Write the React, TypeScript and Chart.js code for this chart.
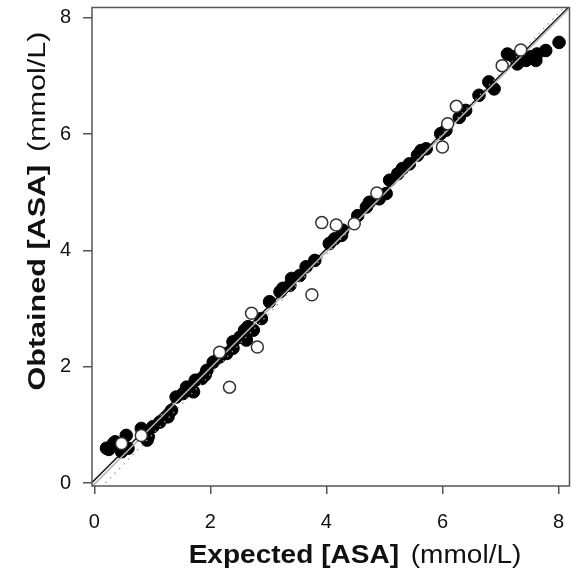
import React, { useEffect, useRef } from "react";
import { Chart, registerables } from "chart.js";

Chart.register(...registerables);

// Filled points (expected, obtained)
const filledX = [
  0.21, 0.25, 0.33, 0.36, 0.47, 0.55, 0.58, 0.81, 0.91, 0.93, 1.01, 1.13, 1.27, 1.33,
  1.41, 1.53, 1.62, 1.59, 1.71, 1.74, 1.85, 1.91, 1.94, 2.05, 2.16, 2.28, 2.39, 2.39,
  2.51, 2.59, 2.65, 2.62, 2.74, 2.88, 3.02, 3.2, 3.25, 3.37, 3.4, 3.54, 3.65, 3.8,
  4.05, 4.14, 4.26, 4.28, 4.54, 4.69, 4.74, 4.91, 5.03, 5.09, 5.23, 5.31, 5.43, 5.57,
  5.63, 5.72, 5.97, 6.06, 6.29, 6.4, 6.63, 6.8, 6.89, 7.12, 7.23, 7.29, 7.44, 7.52,
  7.61, 7.63, 7.78, 8.01,
];
const filledY = [
  0.6, 0.58, 0.68, 0.71, 0.54, 0.82, 0.6, 0.94, 0.74, 0.8, 0.97, 1.05, 1.14, 1.25,
  1.48, 1.54, 1.6, 1.65, 1.57, 1.77, 1.8, 1.86, 1.94, 2.08, 2.17, 2.23, 2.32, 2.43,
  2.51, 2.63, 2.69, 2.46, 2.63, 2.83, 3.12, 3.29, 3.35, 3.4, 3.52, 3.57, 3.72, 3.83,
  4.12, 4.2, 4.26, 4.35, 4.6, 4.75, 4.83, 4.89, 4.98, 5.21, 5.32, 5.41, 5.49, 5.64,
  5.72, 5.75, 6.01, 6.07, 6.29, 6.41, 6.67, 6.9, 6.78, 7.38, 7.33, 7.21, 7.27, 7.33,
  7.27, 7.38, 7.44, 7.58,
];

// Open points (expected, obtained)
const openX = [0.47, 0.81, 2.16, 2.33, 2.81, 2.71, 3.75, 3.92, 4.17, 4.48, 4.87, 6.24, 6.09, 6.0, 7.03, 7.35];
const openY = [0.68, 0.82, 2.25, 1.65, 2.34, 2.92, 3.24, 4.48, 4.44, 4.46, 4.99, 6.48, 6.18, 5.78, 7.18, 7.45];

const xTicks = [0, 2, 4, 6, 8];
const yTicks = [0, 2, 4, 6, 8];

const xRange = [-0.04, 8.19];
const yRange = [-0.05, 8.18];

// Reference lines: slope / intercept
const fitLine = { slope: 0.995, intercept: 0.05 };
const identityLine = { slope: 1.0, intercept: -0.02 };
const dottedLine = { slope: 1.035, intercept: -0.2 };

const xTitleBold = "Expected [ASA]";
const yTitleBold = "Obtained [ASA]";
const unitText = "(mmol/L)";

const lineData = (l: { slope: number; intercept: number }) =>
  xRange.map((x) => ({ x, y: l.slope * x + l.intercept }));

const FONT = "'Liberation Sans', Arial, sans-serif";

function drawMixed(ctx: CanvasRenderingContext2D, size: number, bold: string, norm: string) {
  const boldFont = `bold ${size}px ${FONT}`;
  const normFont = `${size}px ${FONT}`;
  ctx.font = boldFont;
  const w1 = ctx.measureText(bold).width;
  const sp = ctx.measureText(" ").width * 1.5;
  ctx.font = normFont;
  const w2 = ctx.measureText(norm).width;
  const sx = -(w1 + sp + w2) / 2;
  ctx.font = boldFont;
  ctx.fillText(bold, sx, 0);
  ctx.font = normFont;
  ctx.fillText(norm, sx + w1 + sp, 0);
}

const framePlugin = {
  id: "frameAndTitles",
  afterDraw(chart: any) {
    const { ctx, chartArea } = chart;
    ctx.save();
    ctx.strokeStyle = "#555";
    ctx.lineWidth = 1.5;
    ctx.strokeRect(chartArea.left, chartArea.top, chartArea.right - chartArea.left, chartArea.bottom - chartArea.top);

    ctx.fillStyle = "#111";
    ctx.textBaseline = "alphabetic";
    ctx.textAlign = "left";

    // X title
    ctx.save();
    ctx.translate(355, 563);
    ctx.scale(1.1, 1);
    drawMixed(ctx, 25.5, xTitleBold, unitText);
    ctx.restore();

    // Y title
    ctx.save();
    ctx.translate(45, 211);
    ctx.rotate(-Math.PI / 2);
    ctx.scale(1.3, 1);
    drawMixed(ctx, 23.5, yTitleBold, unitText);
    ctx.restore();

    ctx.restore();
  },
};

const zeroPad = (s: any) => {
  s.paddingTop = 0;
  s.paddingBottom = 0;
  s.paddingLeft = 0;
  s.paddingRight = 0;
};

export default function App() {
  const ref = useRef<HTMLCanvasElement | null>(null);

  useEffect(() => {
    if (!ref.current) return;
    const chart = new Chart(ref.current, {
      type: "scatter",
      data: {
        datasets: [
          {
            label: "fit",
            data: lineData(fitLine),
            showLine: true,
            borderColor: "#111",
            borderWidth: 1.5,
            pointRadius: 0,
            order: 6,
          },
          {
            label: "filled",
            data: filledX.map((x, i) => ({ x, y: filledY[i] })),
            backgroundColor: "#000",
            borderColor: "#000",
            borderWidth: 1,
            pointRadius: 6.3,
            order: 5,
          },
          {
            label: "identity",
            data: lineData(identityLine),
            showLine: true,
            borderColor: "#b0b0b0",
            borderWidth: 1.5,
            pointRadius: 0,
            order: 4,
          },
          {
            label: "dotted",
            data: lineData(dottedLine),
            showLine: true,
            borderColor: "#999",
            borderWidth: 1.2,
            borderDash: [1.5, 5],
            pointRadius: 0,
            order: 3,
          },
          {
            label: "open",
            data: openX.map((x, i) => ({ x, y: openY[i] })),
            backgroundColor: "#fff",
            borderColor: "#333",
            borderWidth: 1.5,
            pointRadius: 6,
            order: 1,
          },
        ],
      },
      options: {
        responsive: false,
        animation: false,
        devicePixelRatio: 1,
        layout: { padding: { top: 7, right: 6, left: 0, bottom: 0 } },
        plugins: { legend: { display: false }, tooltip: { enabled: false } },
        scales: {
          x: {
            type: "linear",
            min: xRange[0],
            max: xRange[1],
            afterBuildTicks: (s: any) => {
              s.ticks = xTicks.map((v) => ({ value: v }));
            },
            afterFit: (s: any) => {
              s.height = 94;
              zeroPad(s);
            },
            border: { display: false },
            grid: { display: true, drawOnChartArea: false, drawTicks: true, tickLength: 8, color: "#555", lineWidth: 1.5 },
            ticks: { font: { family: FONT, size: 20 }, color: "#111", padding: 16, maxRotation: 0 },
          },
          y: {
            type: "linear",
            min: yRange[0],
            max: yRange[1],
            afterBuildTicks: (s: any) => {
              s.ticks = yTicks.map((v) => ({ value: v }));
            },
            afterFit: (s: any) => {
              s.width = 92;
              zeroPad(s);
            },
            border: { display: false },
            grid: { display: true, drawOnChartArea: false, drawTicks: true, tickLength: 9, color: "#555", lineWidth: 1.5 },
            ticks: { font: { family: FONT, size: 20 }, color: "#111", padding: 12 },
          },
        },
      },
      plugins: [framePlugin],
    });
    return () => chart.destroy();
  }, []);

  return (
    <div style={{ position: "absolute", left: 0, top: 0, width: 577, height: 580, background: "#fff" }}>
      <canvas ref={ref} width={577} height={580} />
    </div>
  );
}
